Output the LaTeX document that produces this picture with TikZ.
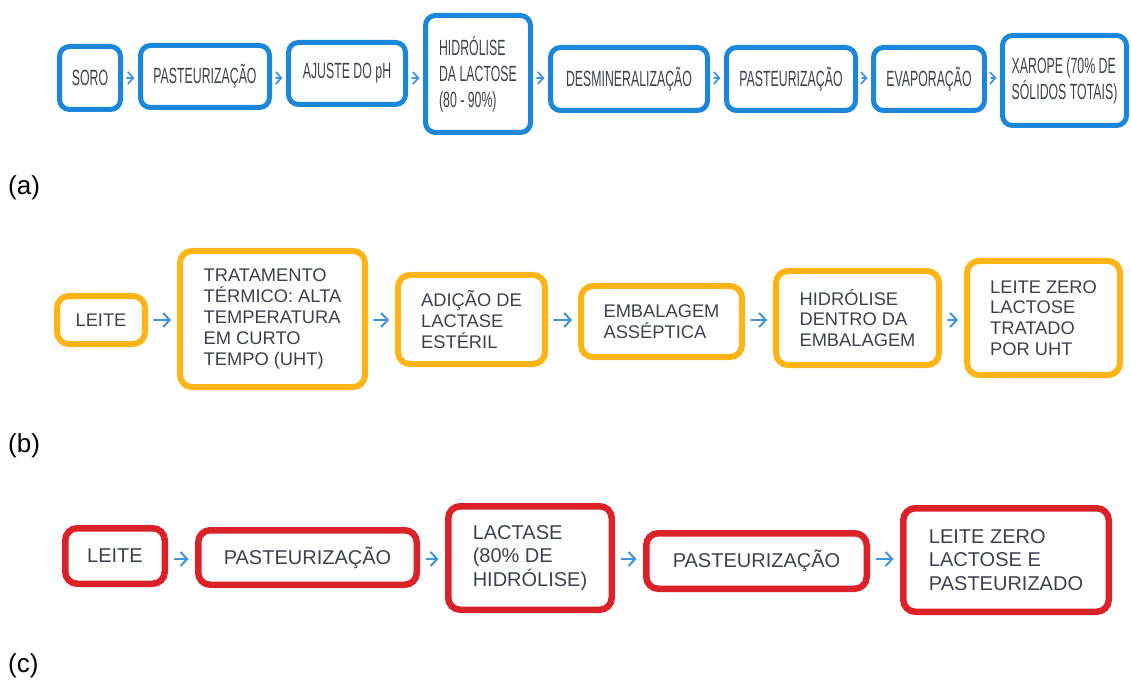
\documentclass[tikz,border=0pt]{standalone}
\usepackage{fontspec}
\setmainfont{Liberation Sans}
\newfontfamily\estreita[FakeStretch=0.56]{Liberation Sans}
\usetikzlibrary{arrows.meta}
\definecolor{azul}{RGB}{26,135,219}
\definecolor{laranja}{RGB}{253,180,20}
\definecolor{vermelho}{RGB}{220,34,41}
\definecolor{corseta}{RGB}{61,147,221}
\definecolor{texto}{RGB}{58,66,80}
\begin{document}
\begin{tikzpicture}[x=1pt,y=-1pt,
		caixaA/.style={draw=azul,line width=5pt,rounded corners=10pt,inner sep=0pt,align=left,text=texto,font=\estreita\fontsize{22}{26}\selectfont},
		caixaB/.style={draw=laranja,line width=6pt,rounded corners=12pt,inner sep=0pt,align=left,text=texto,font=\fontsize{18.3}{20.8}\selectfont},
		caixaC/.style={draw=vermelho,line width=6.5pt,rounded corners=12pt,inner sep=0pt,align=left,text=texto,font=\fontsize{20}{23.5}\selectfont},
		setaA/.style={draw=corseta,line width=1.7pt,line cap=round,-{Straight Barb[length=5.5pt,width=12pt]},shorten <=4pt,shorten >=3.5pt},
		setaB/.style={draw=corseta,line width=2pt,line cap=round,-{Straight Barb[length=6.5pt,width=14pt]},shorten <=6pt,shorten >=6pt},
		setaC/.style={draw=corseta,line width=2pt,line cap=round,-{Straight Barb[length=6.5pt,width=14pt]},shorten <=6.5pt,shorten >=6.5pt},
		rotulo/.style={anchor=west,inner sep=0pt,font=\fontsize{26}{30}\selectfont}]
	\useasboundingbox (0,0) rectangle (1131,684);

	% (a)
	\coordinate (ya) at (0,78);
	\node[caixaA,minimum width=61pt,minimum height=63pt] (soro) at (90,78) {SORO};
	\node[caixaA,minimum width=129pt,minimum height=62pt] (pastA) at (205,76.5) {PASTEURIZAÇÃO};
	\node[caixaA,minimum width=117pt,minimum height=62pt] (ajuste) at (347,73.5) {AJUSTE DO pH};
	\node[caixaA,minimum width=105pt,minimum height=117pt] (hidrA) at (478,74) {HIDRÓLISE\\DA LACTOSE\\(80 - 90\%)};
	\node[caixaA,minimum width=157pt,minimum height=63pt] (desmin) at (629,79) {DESMINERALIZAÇÃO};
	\node[caixaA,minimum width=129pt,minimum height=63pt] (pastA2) at (791,79) {PASTEURIZAÇÃO};
	\node[caixaA,minimum width=111pt,minimum height=63pt] (evap) at (929,79) {EVAPORAÇÃO};
	\node[caixaA,minimum width=124pt,minimum height=90pt] (xarope) at (1064.5,80.5) {XAROPE (70\% DE\\SÓLIDOS TOTAIS)};
	\draw[setaA] (soro.east |- ya) -- (pastA.west |- ya);
	\draw[setaA] (pastA.east |- ya) -- (ajuste.west |- ya);
	\draw[setaA] (ajuste.east |- ya) -- (hidrA.west |- ya);
	\draw[setaA] (hidrA.east |- ya) -- (desmin.west |- ya);
	\draw[setaA] (desmin.east |- ya) -- (pastA2.west |- ya);
	\draw[setaA] (pastA2.east |- ya) -- (evap.west |- ya);
	\draw[setaA] (evap.east |- ya) -- (xarope.west |- ya);
	\node[rotulo] (rotA) at (8,188) {(a)};

	% (b)
	\coordinate (yb) at (0,320);
	\node[caixaB,minimum width=88pt,minimum height=48pt] (leiteB) at (101,320) {LEITE};
	\node[caixaB,minimum width=185pt,minimum height=136pt] (tratB) at (272.5,319) {TRATAMENTO\\TÉRMICO: ALTA\\TEMPERATURA\\EM CURTO\\TEMPO (UHT)};
	\node[caixaB,minimum width=147pt,minimum height=89pt] (adicaoB) at (471.5,319.5) {ADIÇÃO DE\\LACTASE\\ESTÉRIL};
	\node[caixaB,minimum width=161pt,minimum height=71pt] (embB) at (661.5,321.5) {EMBALAGEM\\ASSÉPTICA};
	\node[caixaB,minimum width=163pt,minimum height=94pt] (hidrB) at (857.5,318) {HIDRÓLISE\\DENTRO DA\\EMBALAGEM};
	\node[caixaB,minimum width=153pt,minimum height=114pt] (zeroB) at (1043.5,318) {LEITE ZERO\\LACTOSE\\TRATADO\\POR UHT};
	\draw[setaB] (leiteB.east |- yb) -- (tratB.west |- yb);
	\draw[setaB] (tratB.east |- yb) -- (adicaoB.west |- yb);
	\draw[setaB] (adicaoB.east |- yb) -- (embB.west |- yb);
	\draw[setaB] (embB.east |- yb) -- (hidrB.west |- yb);
	\draw[setaB] (hidrB.east |- yb) -- (zeroB.west |- yb);
	\node[rotulo] (rotB) at (8,446) {(b)};

	% (c)
	\coordinate (yc) at (0,559);
	\node[caixaC,minimum width=99.5pt,minimum height=55.5pt] (leiteC) at (115,556) {LEITE};
	\node[caixaC,minimum width=218.5pt,minimum height=54.5pt] (pastC) at (307.5,557.5) {PASTEURIZAÇÃO};
	\node[caixaC,minimum width=163.5pt,minimum height=103.5pt] (lactC) at (530,558) {LACTASE\\(80\% DE\\HIDRÓLISE)};
	\node[caixaC,minimum width=220.5pt,minimum height=55.5pt] (pastC2) at (756.5,561) {PASTEURIZAÇÃO};
	\node[caixaC,minimum width=205.5pt,minimum height=103.5pt] (zeroC) at (1006,560) {LEITE ZERO\\LACTOSE E\\PASTEURIZADO};
	\draw[setaC] (leiteC.east |- yc) -- (pastC.west |- yc);
	\draw[setaC] (pastC.east |- yc) -- (lactC.west |- yc);
	\draw[setaC] (lactC.east |- yc) -- (pastC2.west |- yc);
	\draw[setaC] (pastC2.east |- yc) -- (zeroC.west |- yc);
	\node[rotulo] (rotC) at (8,666) {(c)};
\end{tikzpicture}
\end{document}
